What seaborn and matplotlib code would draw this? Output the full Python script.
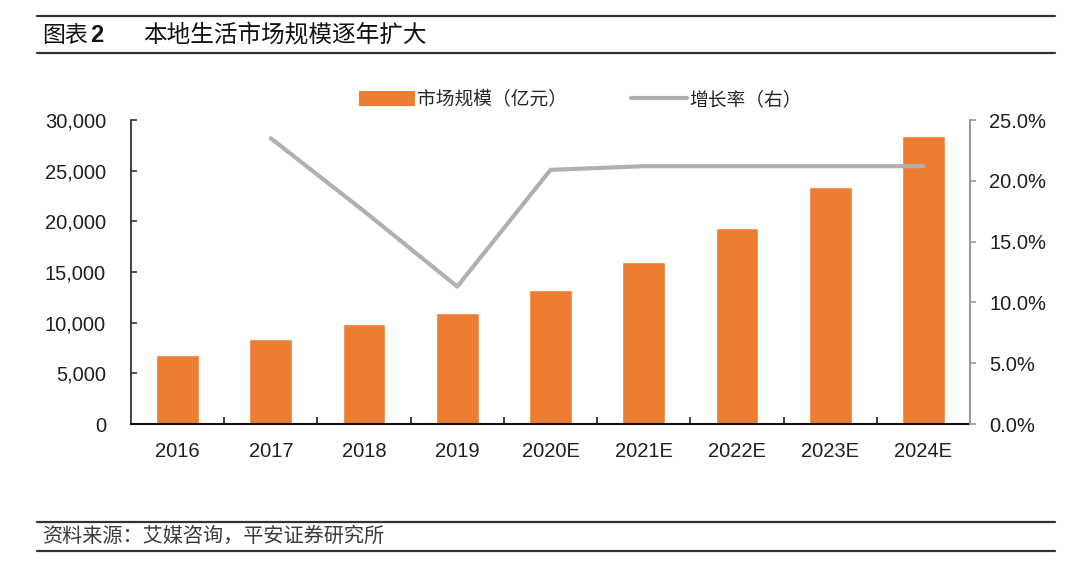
import numpy as np
import pandas as pd
import matplotlib
matplotlib.use("Agg")
import matplotlib.pyplot as plt
import seaborn as sns
from matplotlib.patches import Patch
from matplotlib.lines import Line2D
from matplotlib.ticker import FixedLocator, FuncFormatter

# ---- data ----
years = ["2016", "2017", "2018", "2019", "2020E", "2021E", "2022E", "2023E", "2024E"]
market_size = [6850, 8350, 9850, 11000, 13200, 16000, 19300, 23400, 28400]  # 亿元
growth_years = ["2017", "2018", "2019", "2020E", "2021E", "2022E", "2023E", "2024E"]
growth_rate = [23.5, 17.5, 11.3, 20.9, 21.2, 21.2, 21.2, 21.2]  # %
left_ticks = [0, 5000, 10000, 15000, 20000, 25000, 30000]
right_ticks = [0, 5, 10, 15, 20, 25]

title_prefix = "图表"
title_num = "2"
title_text = "本地生活市场规模逐年扩大"
legend_bar = "市场规模（亿元）"
legend_line = "增长率（右）"
source_text = "资料来源：艾媒咨询，平安证券研究所"

ORANGE = "#ED7D31"
GRAY = "#B0B0B0"

sns.set_theme(style="white")
plt.rcParams["font.family"] = ["Liberation Sans", "Noto Sans CJK SC", "DejaVu Sans"]

fig = plt.figure(figsize=(10.8, 5.75), dpi=100)
ax = fig.add_axes([131 / 1080, 1 - 424 / 575, (970 - 131) / 1080, (424 - 120) / 575])

df_bar = pd.DataFrame({"year": years, "size": market_size})
sns.barplot(data=df_bar, x="year", y="size", order=years, color=ORANGE,
            saturation=1, width=0.46, ax=ax)

ax2 = ax.twinx()
df_line = pd.DataFrame({"year": growth_years, "growth": growth_rate})
sns.pointplot(data=df_line, x="year", y="growth", order=years, color=GRAY,
              markers="", linestyles="-", errorbar=None, ax=ax2, linewidth=3)

ax.set_xlim(-0.5, len(years) - 0.5)
ax.set_ylim(left_ticks[0], left_ticks[-1])
ax2.set_ylim(right_ticks[0], right_ticks[-1])
ax.set_yticks(left_ticks)
ax2.set_yticks(right_ticks)
ax.yaxis.set_major_formatter(FuncFormatter(lambda v, p: f"{int(v):,}"))
ax2.yaxis.set_major_formatter(FuncFormatter(lambda v, p: f"{v:.1f}%"))
ax.set_xlabel("")
ax.set_ylabel("")
ax2.set_xlabel("")
ax2.set_ylabel("")

label_color = "#1f1f1f"
FS = 14.5
ax.set_xticks(range(len(years)))
ax.set_xticklabels(years)
ax.xaxis.set_minor_locator(FixedLocator(np.arange(0.5, len(years) - 0.5, 1)))
ax.tick_params(axis="x", which="major", length=0, pad=13, labelsize=FS, labelcolor=label_color)
ax.tick_params(axis="x", which="minor", length=5, width=1.2, direction="in", color="#222222", bottom=True)
ax.tick_params(axis="y", which="major", length=4, width=1.2, direction="in", color="#333333",
               pad=18, labelsize=FS, labelcolor=label_color, left=True)
ax2.tick_params(axis="y", which="major", length=4, width=1.2, direction="out", color="#9a9a9a",
                pad=10, labelsize=FS, labelcolor=label_color, right=True)

for a in (ax, ax2):
    a.spines["top"].set_visible(False)
    a.grid(False)
ax.spines["left"].set_color("#333333")
ax.spines["left"].set_linewidth(1.3)
ax.spines["bottom"].set_color("#111111")
ax.spines["bottom"].set_linewidth(1.5)
ax.spines["right"].set_visible(False)
ax2.spines["left"].set_visible(False)
ax2.spines["bottom"].set_visible(False)
ax2.spines["right"].set_color("#9a9a9a")
ax2.spines["right"].set_linewidth(1.5)
ax.set_zorder(1)
ax.patch.set_visible(False)
ax2.set_zorder(2)
ax2.patch.set_visible(False)
ax2.set_xlim(-0.5, len(years) - 0.5)

handles = [Patch(facecolor=ORANGE, edgecolor="none", label=legend_bar),
           Line2D([0], [0], color=GRAY, lw=3, label=legend_line)]
fig.legend(handles=handles, loc="center", bbox_to_anchor=(580 / 1080, 1 - 100 / 575),
           ncol=2, frameon=False, fontsize=13.5, handlelength=3.0, handleheight=0.8,
           handletextpad=0.1, columnspacing=3.4)

# title and rules
fig.text(42 / 1080, 1 - 35 / 575, title_prefix, fontsize=16.5, va="center", ha="left",
         color="#111111", family=["Noto Sans CJK SC"])
fig.text(90 / 1080, 1 - 35 / 575, title_num, fontsize=17, va="center", ha="left",
         color="#111111", fontweight="bold")
fig.text(143 / 1080, 1 - 35 / 575, title_text, fontsize=17, va="center", ha="left",
         color="#111111", family=["Noto Sans CJK SC"])
for yy in (15.5, 52.5, 521.5, 550.5):
    fig.add_artist(Line2D([37 / 1080, 1055 / 1080], [1 - yy / 575, 1 - yy / 575],
                          color="#333333", lw=1.6, transform=fig.transFigure))
fig.text(42 / 1080, 1 - 536 / 575, source_text, fontsize=14.5, va="center", ha="left",
         color="#3a3a3a", style="italic", family=["Noto Sans CJK SC"])

fig.savefig("out.png", dpi=100)
